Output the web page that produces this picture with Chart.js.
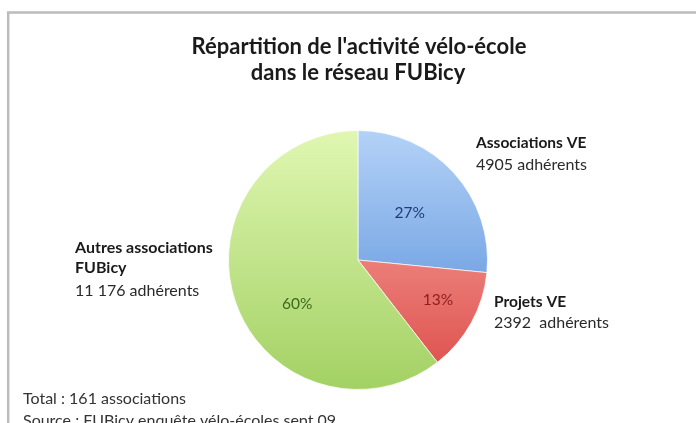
<!DOCTYPE html>
<html>
<head>
<meta charset="utf-8">
<script src="https://cdn.jsdelivr.net/npm/chart.js@4"></script>
<style>
  html, body { margin: 0; padding: 0; background: #ffffff; }
  #wrap { width: 696px; height: 423px; position: relative; }
</style>
</head>
<body>
<div id="wrap"><canvas id="c" width="696" height="423"></canvas></div>
<script>
// ---- data ----
const categories = ["Associations VE", "Projets VE", "Autres associations FUBicy"];
const adherents = [4905, 2392, 11176];
const adherentLabels = ["4905 adhérents", "2392  adhérents", "11 176 adhérents"];
const titleLines = ["Répartition de l'activité vélo-école", "dans le réseau FUBicy"];
const footnotes = ["Total : 161 associations", "Source : FUBicy enquête vélo-écoles sept 09"];

// ---- styles ----
const FONT = "Lato, 'Open Sans', sans-serif";
const gradStops = [
  ["#b4d2f7", "#4a86d6"],
  ["#fbb2aa", "#dc4a47"],
  ["#e0f7b2", "#a3d164"]
];
const pctColors = ["#1f3c78", "#8a1f1f", "#3d6a1c"];

function sliceGradient(ctx) {
  const chart = ctx.chart;
  const area = chart.chartArea;
  if (!area) return gradStops[ctx.dataIndex][1];
  const g = chart.ctx.createLinearGradient(0, area.top, 0, area.bottom);
  g.addColorStop(0, gradStops[ctx.dataIndex][0]);
  g.addColorStop(1, gradStops[ctx.dataIndex][1]);
  return g;
}

const annotations = {
  id: 'annotations',
  beforeDraw(chart) {
    const c = chart.ctx;
    c.save();
    c.fillStyle = '#ffffff';
    c.fillRect(0, 0, chart.width, chart.height);
    c.strokeStyle = '#bcbcbc';
    c.lineWidth = 2.5;
    c.beginPath();
    c.moveTo(8.2, chart.height + 5);
    c.lineTo(8.2, 12.5);
    c.lineTo(chart.width + 5, 12.5);
    c.stroke();
    c.restore();
  },
  afterDraw(chart) {
    const c = chart.ctx;
    const meta = chart.getDatasetMeta(0);
    const arc0 = meta.data[0];
    const cx = arc0.x, cy = arc0.y, r = arc0.outerRadius;
    const total = adherents.reduce((a, b) => a + b, 0);
    c.save();
    c.textBaseline = 'middle';

    // title
    c.fillStyle = '#1a1a1a';
    c.textAlign = 'center';
    c.font = `bold 22px ${FONT}`;
    c.fillText(titleLines[0], 359, 47);
    c.fillText(titleLines[1], 358, 73);

    // percentage labels inside slices
    const place = [{ f: 0.54, da: 0 }, { f: 0.69, da: -0.04 }, { f: 0.58, da: -0.30 }];
    c.font = `15.5px ${FONT}`;
    meta.data.forEach((arc, i) => {
      const mid = (arc.startAngle + arc.endAngle) / 2 + place[i].da;
      const rr = r * place[i].f;
      const x = cx + Math.cos(mid) * rr;
      const y = cy + Math.sin(mid) * rr;
      c.fillStyle = pctColors[i];
      c.fillText(Math.round(adherents[i] / total * 100) + '%', x, y);
    });

    // category labels outside
    c.textAlign = 'left';
    c.fillStyle = '#1a1a1a';
    // Associations VE
    c.font = `bold 15.5px ${FONT}`;
    c.fillText(categories[0], cx + 118, cy - 117);
    c.font = `16px ${FONT}`;
    c.fillStyle = '#2a2a2a';
    c.fillText(adherentLabels[0], cx + 118, cy - 95);
    // Projets VE
    c.fillStyle = '#1a1a1a';
    c.font = `bold 15.5px ${FONT}`;
    c.fillText(categories[1], cx + 136, cy + 42);
    c.font = `16px ${FONT}`;
    c.fillStyle = '#2a2a2a';
    c.fillText(adherentLabels[1], cx + 136, cy + 63);
    // Autres associations FUBicy
    c.fillStyle = '#1a1a1a';
    c.font = `bold 16px ${FONT}`;
    c.fillText("Autres associations", 75, cy - 12);
    c.fillText("FUBicy", 75, cy + 8);
    c.font = `16px ${FONT}`;
    c.fillStyle = '#2a2a2a';
    c.fillText(adherentLabels[2], 75, cy + 31);

    // footnotes
    c.font = `16px ${FONT}`;
    c.fillStyle = '#333333';
    c.fillText(footnotes[0], 23, 399);
    c.fillText(footnotes[1], 23, 421);
    c.restore();
  }
};

new Chart(document.getElementById('c'), {
  type: 'pie',
  data: {
    labels: categories,
    datasets: [{
      data: adherents,
      backgroundColor: sliceGradient,
      borderColor: 'rgba(255,255,255,0.7)',
      borderWidth: 1,
      hoverOffset: 0
    }]
  },
  options: {
    responsive: false,
    animation: false,
    devicePixelRatio: 1,
    layout: { padding: { top: 130, bottom: 33, left: 228, right: 208 } },
    plugins: {
      legend: { display: false },
      title: { display: false },
      tooltip: { enabled: false }
    }
  },
  plugins: [annotations]
});
</script>
</body>
</html>
